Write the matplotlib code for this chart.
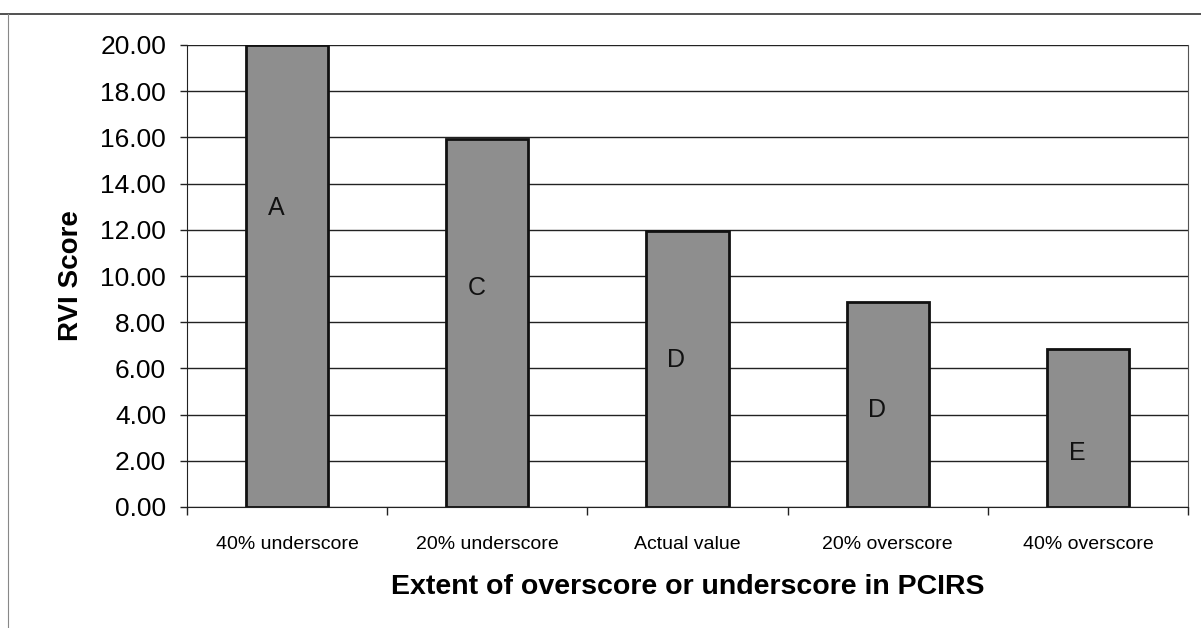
import matplotlib
matplotlib.use("Agg")
import matplotlib.pyplot as plt
from matplotlib.lines import Line2D
import numpy as np

categories = ["40% underscore", "20% underscore", "Actual value", "20% overscore", "40% overscore"]
values = [20.0, 15.95, 11.95, 8.88, 6.82]
letters = ["A", "C", "D", "D", "E"]
letter_y = [12.95, 9.5, 6.35, 4.2, 2.35]
yticks = [0, 2, 4, 6, 8, 10, 12, 14, 16, 18, 20]

plt.rcParams['font.family'] = ['Liberation Sans', 'DejaVu Sans']

fig = plt.figure(figsize=(12.01, 6.28), dpi=100)
ax = fig.add_axes([187/1201, 1-507/628, 1001/1201, 462/628])

x = np.arange(len(categories))
ax.bar(x, values, width=0.41, color="#8e8e8e", edgecolor="#111111", linewidth=2, zorder=3)
for xi, lt, ly in zip(x, letters, letter_y):
    ax.text(xi - 0.055, ly, lt, ha="center", va="center", fontsize=18, color="#111111", zorder=4)

ax.set_xlim(-0.5, len(categories) - 0.5)
ax.set_ylim(0, 20)
ax.set_yticks(yticks)
ax.set_yticklabels([f"{v:.2f}" for v in yticks], fontsize=19)
ax.yaxis.grid(True, color="#222222", linewidth=1.0, zorder=0)
ax.set_axisbelow(True)

ax.set_xticks(x)
ax.set_xticklabels(categories, fontsize=14)
ax.tick_params(axis="x", which="major", length=0, pad=21)
ax.set_xticks(np.arange(-0.5, len(categories) + 0.5, 1), minor=True)
ax.tick_params(axis="x", which="minor", length=6, width=1, color="#222222")
ax.tick_params(axis="y", length=5, width=1, color="#222222", pad=10)

ax.spines["top"].set_visible(False)
ax.spines["left"].set_color("#222222")
ax.spines["bottom"].set_color("#222222")
ax.spines["right"].set_color("#555555")
ax.spines["right"].set_linewidth(0.8)

ax.set_ylabel("RVI Score", fontsize=20, fontweight="bold", labelpad=12)
ax.set_xlabel("Extent of overscore or underscore in PCIRS", fontsize=20.5, fontweight="bold", labelpad=15)

fig.add_artist(Line2D([0, 1], [1 - 14/628, 1 - 14/628], transform=fig.transFigure, color="#333333", linewidth=1.2))
fig.add_artist(Line2D([8/1201, 8/1201], [0, 1 - 14/628], transform=fig.transFigure, color="#888888", linewidth=0.8))

fig.savefig("out.png", dpi=100)
